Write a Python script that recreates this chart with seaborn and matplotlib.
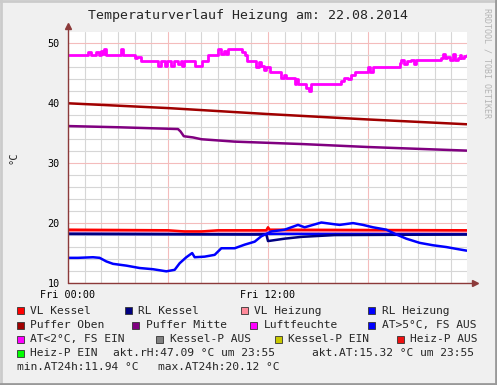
import seaborn as sns
import matplotlib.pyplot as plt
from matplotlib.patches import Rectangle
from matplotlib.lines import Line2D

# values, x in hours since Fri 00:00
rh_hours = [0, 1.2, 1.35, 1.7, 1.85, 2.0, 2.1, 2.15, 2.3, 3.15, 3.3, 3.9, 4.0, 4.15, 4.4,
            5.4, 5.55, 5.8, 5.95, 6.2, 6.35, 6.6, 6.75, 6.85, 6.95, 7.6, 8.05, 8.4, 9.0,
            9.2, 9.35, 9.5, 9.6, 10.45, 10.6, 10.75, 11.3, 11.45, 11.6, 11.75, 11.9, 12.1,
            12.8, 12.95, 13.1, 13.6, 13.7, 13.8, 14.3, 14.45, 14.6, 16.4, 16.55, 16.8,
            17.0, 17.2, 18.0, 18.1, 18.3, 19.9, 20.0, 20.15, 20.35, 20.6, 20.75, 20.85,
            22.4, 22.5, 22.6, 22.75, 22.9, 23.1, 23.2, 23.4, 23.5, 23.6, 23.75, 23.92]
rh_values = [48, 48.6, 48, 48.6, 48, 48.7, 48.2, 49.1, 48, 49, 48, 48, 47.5, 47.8, 47,
             46.2, 47, 46.2, 47, 46.3, 47, 46.5, 47, 46.2, 47, 46.2, 47, 48, 49,
             48.2, 48.8, 48.3, 49, 48.5, 48, 47, 46, 46.9, 46.2, 45.5, 46, 45.2,
             44.3, 44.8, 44.2, 43.3, 44, 43.2, 42.6, 42.1, 43.2, 43.8, 44.3, 44,
             44.8, 45.2, 46, 45.3, 46, 46.8, 47.3, 46.5, 47, 47.3, 46.6, 47.2,
             47.6, 48.2, 47.5, 47.8, 47.3, 48.3, 47.3, 47.6, 48.1, 47.5, 47.9, 48.1]

puffer_oben_hours = [0, 6, 12, 18, 23.92]
puffer_oben = [40.0, 39.2, 38.2, 37.3, 36.5]

puffer_mitte_hours = [0, 3, 6.6, 6.75, 6.95, 7.5, 8.0, 10, 14, 18, 23.92]
puffer_mitte = [36.2, 36.0, 35.7, 35.3, 34.5, 34.3, 34.0, 33.6, 33.2, 32.7, 32.1]

vl_kessel_hours = [0, 6, 7, 8, 9, 11.9, 12.0, 12.1, 23.92]
vl_kessel = [18.9, 18.8, 18.6, 18.6, 18.8, 18.8, 19.3, 18.9, 18.8]

vl_heizung_hours = [0, 23.92]
vl_heizung = [18.65, 18.6]

rl_heizung_hours = [0, 11, 12.5, 23.92]
rl_heizung = [18.2, 18.15, 18.2, 18.15]

rl_kessel_hours = [0, 11.9, 12.0, 13, 14, 16, 23.92]
rl_kessel = [18.2, 18.1, 17.0, 17.4, 17.7, 18.0, 18.1]

at_hours = [0, 0.6, 1.5, 1.9, 2.3, 2.7, 3.5, 4.3, 5.1, 5.9, 6.4, 6.7, 7.1, 7.45, 7.6,
            8.2, 8.8, 9.2, 10.0, 10.6, 11.2, 11.6, 12.2, 13.0, 13.8, 14.2, 15.2, 16.0,
            16.3, 17.1, 17.7, 18.3, 19.1, 19.7, 20.3, 21.1, 21.9, 22.7, 23.3, 23.92]
at_values = [14.2, 14.2, 14.3, 14.2, 13.6, 13.2, 12.9, 12.5, 12.3, 11.95, 12.2, 13.3,
             14.3, 15.0, 14.3, 14.4, 14.7, 15.8, 15.8, 16.4, 16.9, 17.8, 18.6, 18.9,
             19.7, 19.3, 20.1, 19.8, 19.7, 20.0, 19.7, 19.3, 18.9, 18.1, 17.4, 16.7,
             16.3, 16.0, 15.7, 15.4]

legend_labels = ['VL Kessel', 'RL Kessel', 'VL Heizung', 'RL Heizung',
                 'Puffer Oben', 'Puffer Mitte', 'Luftfeuchte', 'AT>5°C, FS AUS',
                 'AT<2°C, FS EIN', 'Kessel-P AUS', 'Kessel-P EIN', 'Heiz-P AUS',
                 'Heiz-P EIN']
legend_colors = ['#ff0000', '#000080', '#ff8a9a', '#0000ff',
                 '#a00000', '#800080', '#ff00ff', '#0000ff',
                 '#ff00ff', '#808080', '#c8c800', '#ee1111',
                 '#00ff00']
info_texts = ['akt.rH:47.09 °C um 23:55', 'akt.AT:15.32 °C um 23:55',
              'min.AT24h:11.94 °C', 'max.AT24h:20.12 °C']

sns.set_style('white')
plt.rcParams['font.family'] = ['DejaVu Sans Mono', 'DejaVu Sans']

W, H = 497, 385
fig = plt.figure(figsize=(W / 100, H / 100), dpi=100, facecolor='#f0f0f0')
ax = fig.add_axes([68 / W, 1 - 283 / H, (467 - 68) / W, (283 - 32) / H])
ax.set_facecolor('white')

# grid
ax.set_xlim(0, 23.94)
ax.set_ylim(10, 51.9)
ax.set_xticks([0, 6, 12, 18])
ax.set_xticklabels(['Fri 00:00', '', 'Fri 12:00', ''])
ax.set_xticks(range(0, 24), minor=True)
ax.set_yticks([10, 20, 30, 40, 50])
ax.set_yticks(range(10, 52, 2), minor=True)
ax.grid(which='minor', color='#d6d6d6', lw=0.8)
ax.grid(which='major', color='#f4bcbc', lw=0.8)
ax.set_axisbelow(True)
ax.tick_params(which='both', length=0, labelsize=7.3, colors='black')
ax.tick_params(axis='y', pad=6)
ax.tick_params(axis='x', pad=5)
for s in ax.spines.values():
    s.set_visible(False)

lw = 1.8
sns.lineplot(x=vl_heizung_hours, y=vl_heizung, color='#ff8a9a', lw=lw, ax=ax, estimator=None)
sns.lineplot(x=rl_heizung_hours, y=rl_heizung, color='#0000ff', lw=lw, ax=ax, estimator=None)
sns.lineplot(x=rl_kessel_hours, y=rl_kessel, color='#000080', lw=lw, ax=ax, estimator=None)
sns.lineplot(x=vl_kessel_hours, y=vl_kessel, color='#ff0000', lw=lw, ax=ax, estimator=None)
sns.lineplot(x=at_hours, y=at_values, color='#0000ff', lw=lw, ax=ax, estimator=None)
sns.lineplot(x=puffer_oben_hours, y=puffer_oben, color='#a00000', lw=lw, ax=ax, estimator=None)
sns.lineplot(x=puffer_mitte_hours, y=puffer_mitte, color='#800080', lw=lw, ax=ax, estimator=None)
sns.lineplot(x=rh_hours, y=rh_values, color='#ff00ff', lw=2.0, ax=ax, estimator=None,
             drawstyle='steps-post')
ax.set_xlabel('')
ax.set_ylabel('')

# axes with arrows
axis_col = '#8c3a3a'
ax.plot([0, 0], [0, 1.02], color=axis_col, lw=1, transform=ax.transAxes, clip_on=False)
ax.plot([0, 1.015], [0, 0], color=axis_col, lw=1, transform=ax.transAxes, clip_on=False)
ax.plot([0], [1.025], marker='^', ms=4, color=axis_col, transform=ax.transAxes, clip_on=False)
ax.plot([1.02], [0], marker='>', ms=4, color=axis_col, transform=ax.transAxes, clip_on=False)

fig.text(248 / W, 1 - 16 / H, 'Temperaturverlauf Heizung am: 22.08.2014',
         ha='center', va='center', fontsize=9.5)
fig.text(14 / W, 1 - 158 / H, '°C', rotation=90, ha='center', va='center', fontsize=7.5)
fig.text(486.5 / W, 1 - 63 / H, 'RRDTOOL / TOBI OETIKER', rotation=270, color='#b4b4b4',
         ha='center', va='center', fontsize=6)

# legend laid out like rrdtool
rows_y = [310.7, 325, 339, 353.3, 366.7]
box_x = [16.7, 125, 240.7, 368,
         16.7, 132, 250, 368,
         16.7, 156, 275, 396.7,
         16.7]
rows = [0, 0, 0, 0, 1, 1, 1, 1, 2, 2, 2, 2, 3]
fs = 8.1
for lab, col, bx, r in zip(legend_labels, legend_colors, box_x, rows):
    y = rows_y[r]
    fig.add_artist(Rectangle((bx / W, 1 - (y + 3.5) / H), 7 / W, 7 / H,
                             transform=fig.transFigure, facecolor=col,
                             edgecolor='#333333', lw=0.6))
    fig.text((bx + 13.5) / W, 1 - y / H, lab, ha='left', va='center', fontsize=fs)
fig.text(113.3 / W, 1 - rows_y[3] / H, info_texts[0], ha='left', va='center', fontsize=fs)
fig.text(312.3 / W, 1 - rows_y[3] / H, info_texts[1], ha='left', va='center', fontsize=fs)
fig.text(16.7 / W, 1 - rows_y[4] / H, info_texts[2], ha='left', va='center', fontsize=fs)
fig.text(158.3 / W, 1 - rows_y[4] / H, info_texts[3], ha='left', va='center', fontsize=fs)

# outer 3d frame
fig.add_artist(Line2D([0, 1], [0.998, 0.998], color='#cbcbcb', lw=2, transform=fig.transFigure))
fig.add_artist(Line2D([0.002, 0.002], [0, 1], color='#cbcbcb', lw=2, transform=fig.transFigure))
fig.add_artist(Line2D([0, 1], [0.002, 0.002], color='#999999', lw=2, transform=fig.transFigure))
fig.add_artist(Line2D([0.998, 0.998], [0, 1], color='#999999', lw=2, transform=fig.transFigure))

fig.savefig('out.png', dpi=100, facecolor=fig.get_facecolor())
